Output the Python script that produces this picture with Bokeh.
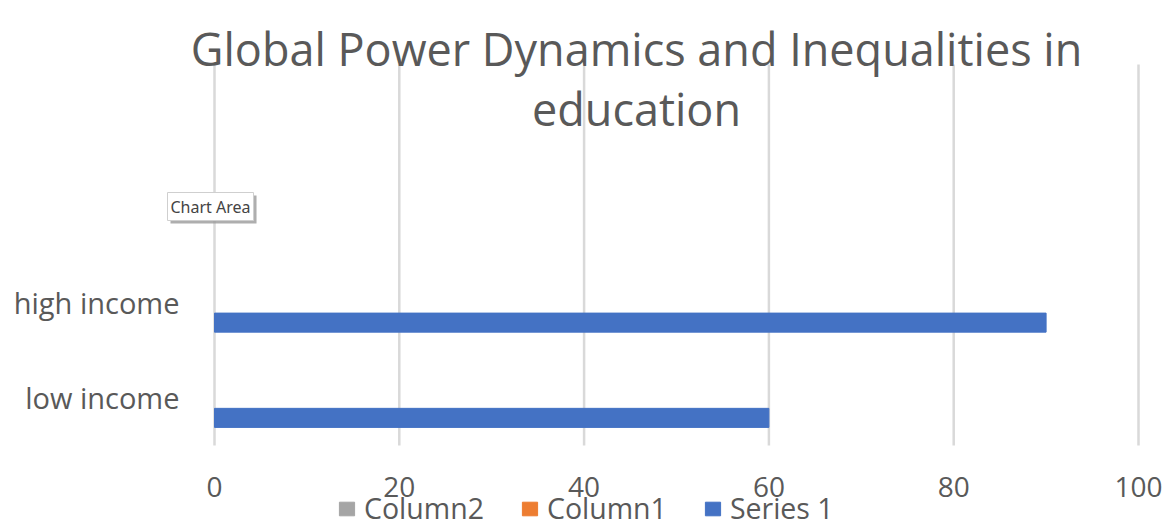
from bokeh.plotting import figure
from bokeh.models import (ColumnDataSource, Range1d, FixedTicker,
                          Legend, LegendItem, Label)
from bokeh.embed import file_html
from bokeh.resources import INLINE

# ---- data ----
categories = ["low income", "high income", "", " "]
series1 = [60, 90, None, None]
column1 = [None, None, None, None]
column2 = [None, None, None, None]
x_ticks = [0, 20, 40, 60, 80, 100]
title_lines = ["Global Power Dynamics and Inequalities in", "education"]
legend_labels = ["Column2", "Column1", "Series 1"]

# ---- layout constants (pixels) ----
W, H = 1169, 528
PLOT_L, PLOT_R, PLOT_T, PLOT_B = 214, 1138, 64, 445
n_cat = len(categories)
xpx = (PLOT_R - PLOT_L) / (x_ticks[-1] - x_ticks[0])
ypx = (PLOT_B - PLOT_T) / n_cat

pos = [i + 0.5 for i in range(n_cat)]


def clean(vals):
    return [float("nan") if v is None else v for v in vals]


src = ColumnDataSource(dict(
    pos=pos,
    y_s1=[p_ - 0.21 for p_ in pos],
    y_c1=[p_ for p_ in pos],
    y_c2=[p_ + 0.21 for p_ in pos],
    s1=clean(series1), c1=clean(column1), c2=clean(column2),
))
grid_src = ColumnDataSource(dict(x=x_ticks, y0=[0] * len(x_ticks), y1=[n_cat] * len(x_ticks)))

TXT = "#595959"
FONT = "Open Sans"

p = figure(width=W, height=H, output_backend="svg", toolbar_location=None,
           x_range=Range1d(-PLOT_L / xpx, x_ticks[-1] + (W - PLOT_R) / xpx),
           y_range=Range1d(-(H - PLOT_B) / ypx, n_cat + PLOT_T / ypx),
           min_border=0)
p.outline_line_color = None
p.background_fill_color = "white"
p.border_fill_color = "white"
p.xgrid.grid_line_color = None
p.ygrid.grid_line_color = None

# vertical gridlines
p.segment(x0="x", y0="y0", x1="x", y1="y1", source=grid_src,
          line_color="#d9d9d9", line_width=2.5)

r2 = p.hbar(y="y_c2", left=0, right="c2", height=0.2, source=src, color="#A5A5A5")
r1 = p.hbar(y="y_c1", left=0, right="c1", height=0.2, source=src, color="#ED7D31")
r0 = p.hbar(y="y_s1", left=0, right="s1", height=0.2, source=src, color="#4472C4")

# x axis
xa = p.xaxis[0]
xa.fixed_location = 0
xa.ticker = FixedTicker(ticks=x_ticks)
xa.axis_line_color = None
xa.major_tick_line_color = None
xa.minor_tick_line_color = None
xa.major_tick_out = 0
xa.major_tick_in = 0
xa.major_label_text_font = FONT
xa.major_label_text_font_size = "28px"
xa.major_label_text_color = TXT
xa.major_label_standoff = 31

# y axis
ya = p.yaxis[0]
ya.fixed_location = 0
ya.ticker = FixedTicker(ticks=pos)
ya.major_label_overrides = {pv: c for pv, c in zip(pos, categories)}
ya.axis_line_color = None
ya.major_tick_line_color = None
ya.minor_tick_line_color = None
ya.major_tick_out = 0
ya.major_tick_in = 0
ya.major_label_text_font = FONT
ya.major_label_text_font_size = "29px"
ya.major_label_text_color = TXT
ya.major_label_standoff = 35

# title (two lines)
p.add_layout(Label(x=636, y=H - 48, x_units="screen", y_units="screen",
                   text=title_lines[0], text_align="center", text_baseline="alphabetic",
                   text_font=FONT, text_font_size="45px", text_color=TXT))
p.add_layout(Label(x=636, y=H - 108, x_units="screen", y_units="screen",
                   text=title_lines[1], text_align="center", text_baseline="alphabetic",
                   text_font=FONT, text_font_size="45px", text_color=TXT))

# "Chart Area" tooltip (shadow + box)
p.add_layout(Label(x=170, y=H - 209, x_units="screen", y_units="screen",
                   text="Chart Area", text_align="left", text_baseline="middle",
                   text_font="Noto Sans", text_font_size="16px", text_color="#9a9a9a",
                   background_fill_color="#9a9a9a", background_fill_alpha=0.8,
                   padding=3))
p.add_layout(Label(x=167, y=H - 206, x_units="screen", y_units="screen",
                   text="Chart Area", text_align="left", text_baseline="middle",
                   text_font="Noto Sans", text_font_size="16px", text_color="#444444",
                   background_fill_color="white", border_line_color="#cfcfcf",
                   padding=3))

legend = Legend(items=[LegendItem(label=legend_labels[0], renderers=[r2]),
                       LegendItem(label=legend_labels[1], renderers=[r1]),
                       LegendItem(label=legend_labels[2], renderers=[r0])],
                orientation="horizontal", location=(337, 1),
                label_text_font=FONT, label_text_font_size="28.5px",
                label_text_color=TXT, glyph_width=19, glyph_height=17,
                label_standoff=8, spacing=36, padding=0, margin=0,
                border_line_color=None, background_fill_alpha=0)
p.add_layout(legend, "center")

open("out.html", "w").write(file_html(p, INLINE))
